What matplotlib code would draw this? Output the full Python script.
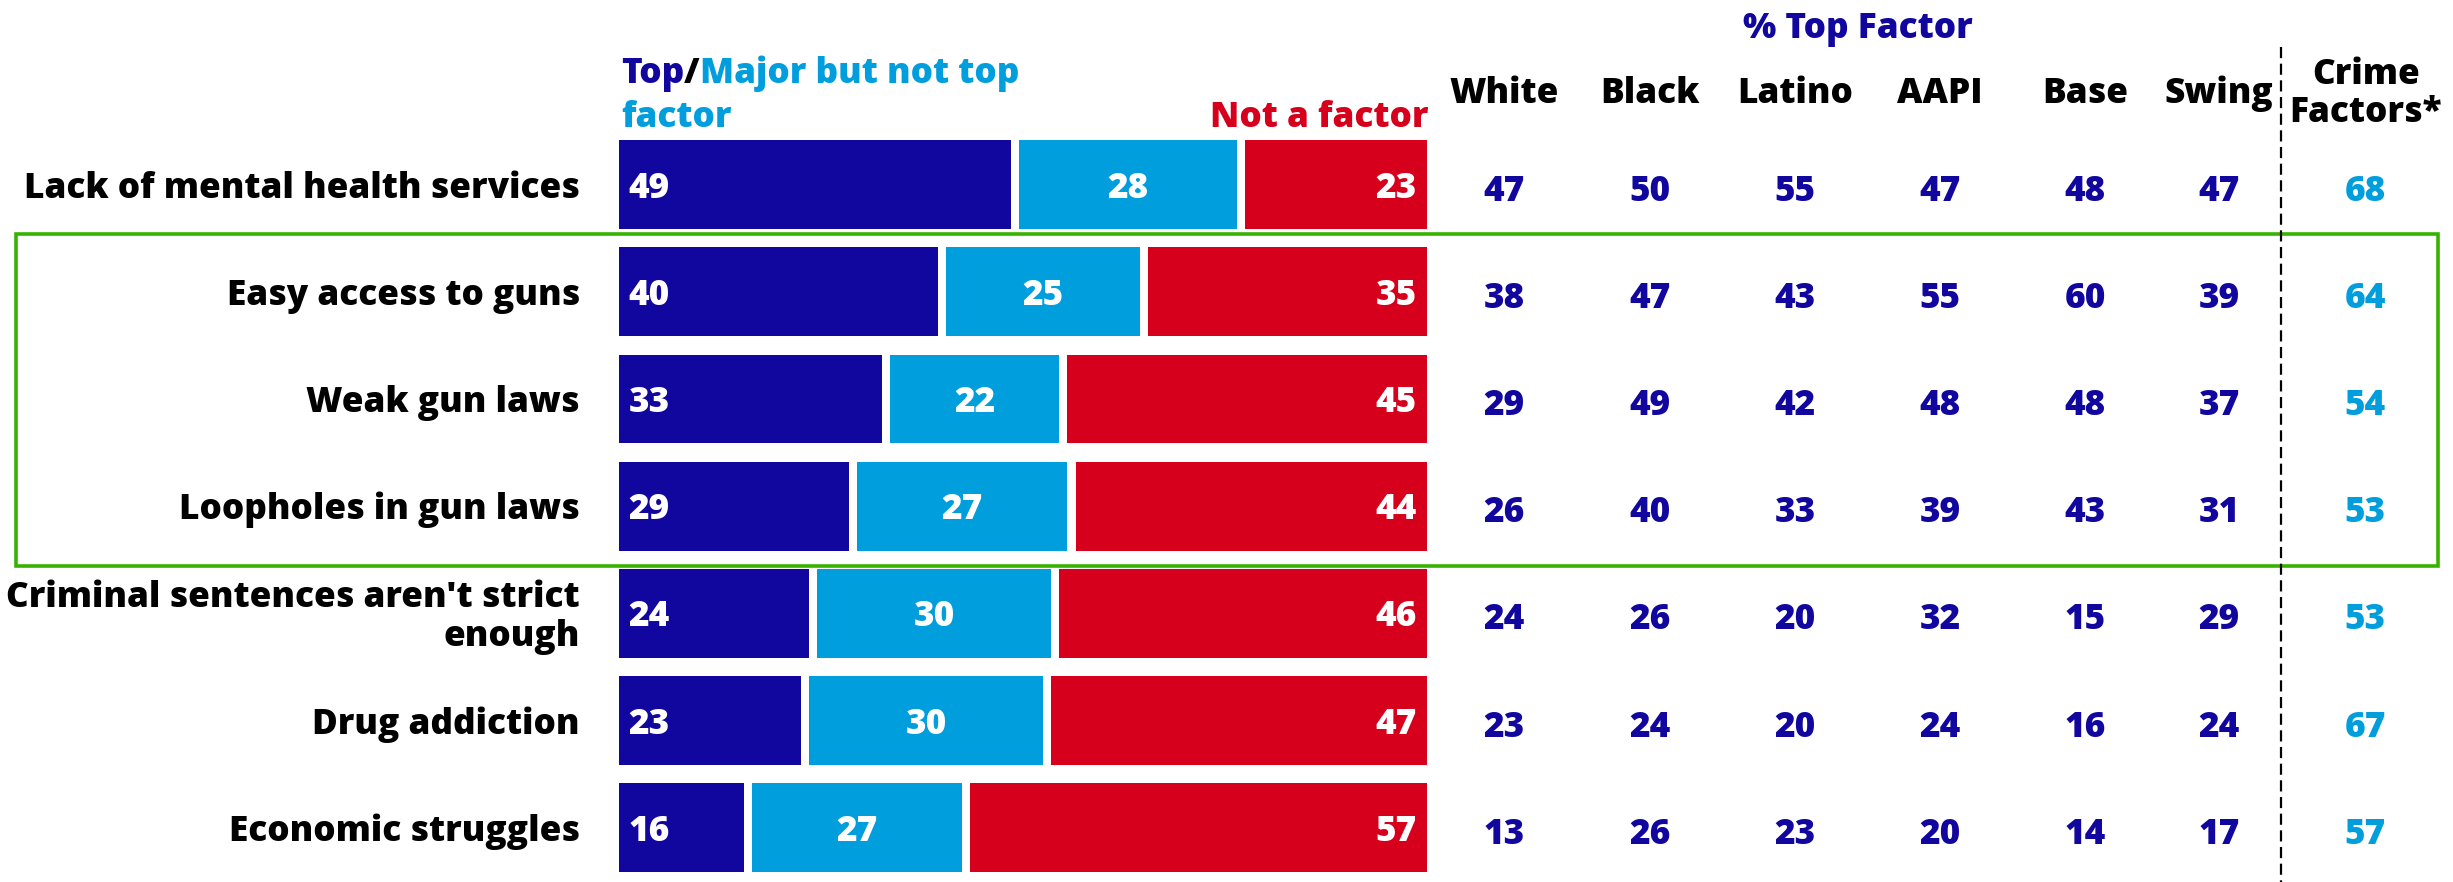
import matplotlib
matplotlib.use("Agg")
import matplotlib.pyplot as plt
from matplotlib.transforms import blended_transform_factory
from matplotlib.patches import Rectangle
from matplotlib.lines import Line2D

# ---------------- data ----------------
categories = ["Lack of mental health services", "Easy access to guns", "Weak gun laws",
              "Loopholes in gun laws", "Criminal sentences aren't strict\nenough",
              "Drug addiction", "Economic struggles"]
top_factor = [49, 40, 33, 29, 24, 23, 16]
major_not_top = [28, 25, 22, 27, 30, 30, 27]
not_factor = [23, 35, 45, 44, 46, 47, 57]

group_labels = ["White", "Black", "Latino", "AAPI", "Base", "Swing"]
white = [47, 38, 29, 26, 24, 23, 13]
black = [50, 47, 49, 40, 26, 24, 26]
latino = [55, 43, 42, 33, 20, 20, 23]
aapi = [47, 55, 48, 39, 32, 24, 20]
base = [48, 60, 48, 43, 15, 16, 14]
swing = [47, 39, 37, 31, 29, 24, 17]
crime_factors = [68, 64, 54, 53, 53, 67, 57]
crime_label = "Crime\nFactors*"
header_title = "% Top Factor"

# ---------------- style ----------------
W, H = 2453, 882
DPI = 100
DARK = "#11079F"
LIGHT = "#009EDD"
RED = "#D6001C"
GREEN = "#36B300"
FS = 25.3
WT = 800
plt.rcParams['font.family'] = ['Open Sans', 'DejaVu Sans']
plt.rcParams['font.weight'] = WT

fig = plt.figure(figsize=(W / DPI, H / DPI), dpi=DPI)

def fx(px):
    return px / W

def fy(py):
    return 1 - (py + 4) / H  # +4 px compensates text descent in centering

row_h = 107.2
ax_top = 131
n = len(categories)
ax = fig.add_axes([fx(619), 1 - (ax_top + row_h * n) / H, fx(808), (row_h * n) / H])
ax.set_xlim(0, 100)
ax.set_ylim(n - 0.5, -0.5)
ax.axis("off")

ys = list(range(n))
dy = 4 / row_h          # text centring offset
dy_tab = 7 / row_h      # table values sit slightly lower
gap = 1.0
bar_h = 0.83
series = [top_factor, major_not_top, not_factor]
colors = [DARK, LIGHT, RED]
for i in range(n):
    cum = 0
    for s_idx, (vals, col) in enumerate(zip(series, colors)):
        v = vals[i]
        l = cum + (gap / 2 if s_idx > 0 else 0)
        r = cum + v - (gap / 2 if s_idx < len(series) - 1 else 0)
        ax.barh(ys[i], r - l, left=l, height=bar_h, color=col, linewidth=0)
        if s_idx == 0:
            ax.text(l + 1.2, ys[i] + dy, str(v), color="white", fontsize=FS,
                    fontweight=WT, ha="left", va="center")
        elif s_idx == 1:
            ax.text((l + r) / 2, ys[i] + dy, str(v), color="white", fontsize=FS,
                    fontweight=WT, ha="center", va="center")
        else:
            ax.text(r - 1.3, ys[i] + dy, str(v), color="white", fontsize=FS,
                    fontweight=WT, ha="right", va="center")
        cum += v

trans = blended_transform_factory(fig.transFigure, ax.transData)

# category labels
for i, c in enumerate(categories):
    ax.text(fx(580), ys[i] + dy, c, transform=trans, fontsize=FS, fontweight=WT,
            ha="right", va="center", color="black", linespacing=1.1)

# table values
col_x = [1504, 1650, 1795, 1940, 2085, 2219]
group_vals = [white, black, latino, aapi, base, swing]
for xpx, vals in zip(col_x, group_vals):
    for i, v in enumerate(vals):
        ax.text(fx(xpx), ys[i] + dy_tab, str(v), transform=trans, fontsize=FS,
                fontweight=WT, ha="center", va="center", color=DARK)
crime_x = 2365
for i, v in enumerate(crime_factors):
    ax.text(fx(crime_x), ys[i] + dy_tab, str(v), transform=trans, fontsize=FS,
            fontweight=WT, ha="center", va="center", color=LIGHT)

# headers
for xpx, lab in zip(col_x, group_labels):
    fig.text(fx(xpx), fy(90), lab, fontsize=FS, fontweight=WT,
             ha="center", va="center", color="black")
fig.text(fx(2366), fy(90), crime_label, fontsize=FS, fontweight=WT,
         ha="center", va="center", color="black", linespacing=1.05)
fig.text(fx(1858), fy(25), header_title, fontsize=FS, fontweight=WT,
         ha="center", va="center", color=DARK)

# legend-like header above bars
renderer = fig.canvas.get_renderer()
x0 = fx(621)
t1 = fig.text(x0, fy(70), "Top", fontsize=FS, fontweight=WT,
              ha="left", va="center", color=DARK)
bb = t1.get_window_extent(renderer)
t2 = fig.text(bb.x1 / W, fy(70), "/", fontsize=FS, fontweight=WT,
              ha="left", va="center", color="black")
bb2 = t2.get_window_extent(renderer)
fig.text(bb2.x1 / W, fy(70), "Major but not top", fontsize=FS, fontweight=WT,
         ha="left", va="center", color=LIGHT)
fig.text(x0, fy(114), "factor", fontsize=FS, fontweight=WT,
         ha="left", va="center", color=LIGHT)
fig.text(fx(1429), fy(114), "Not a factor", fontsize=FS, fontweight=WT,
         ha="right", va="center", color=RED)

# green highlight box
fig.add_artist(Rectangle((fx(16), 1 - 566 / H), fx(2438 - 16), (566 - 234) / H,
                         transform=fig.transFigure, fill=False,
                         edgecolor=GREEN, linewidth=2.6))
# dashed separator
fig.add_artist(Line2D([fx(2281), fx(2281)], [1 - 47 / H, 0],
                      transform=fig.transFigure, color="black",
                      linewidth=1.6, linestyle=(0, (5, 2.5))))

fig.savefig("out.png", dpi=DPI, facecolor="white")
